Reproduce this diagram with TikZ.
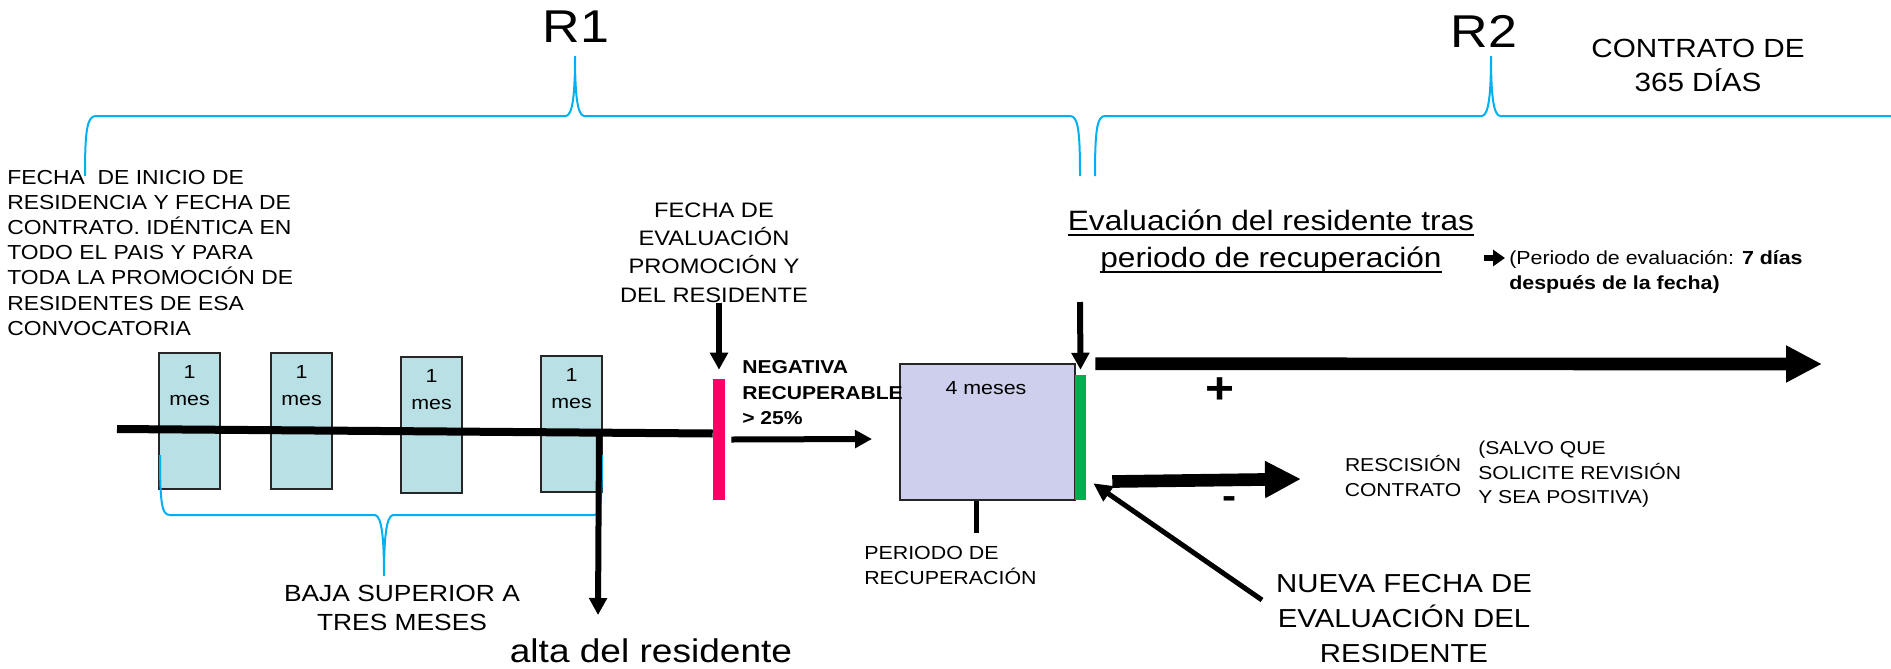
\documentclass[tikz,border=0pt]{standalone}
\usepackage{fontspec}
\setmainfont{Liberation Sans}[FakeStretch=1.13]
\usetikzlibrary{arrows.meta,calc,positioning}

\definecolor{bracecol}{RGB}{0,176,240}
\definecolor{monthcol}{RGB}{185,224,228}
\definecolor{recovcol}{RGB}{205,207,237}
\definecolor{negcol}{RGB}{255,0,102}
\definecolor{poscol}{RGB}{0,176,80}

\newcommand{\setfs}[2]{\fontsize{#1}{#2}\selectfont}
\newsavebox{\ulinebox}
\newcommand{\ulinetext}[1]{\sbox{\ulinebox}{#1}\rlap{\rule[-4pt]{\wd\ulinebox}{1.5pt}}\usebox{\ulinebox}}

\tikzset{
  txt/.style 2 args={inner sep=0pt, align=center, font=\setfs{#1}{#2}},
  txtb/.style 2 args={inner sep=0pt, align=left, font=\setfs{#1}{#2}\bfseries},
  bracket/.style={draw=bracecol, line width=1.5pt},
  monthbox/.style={draw=black!85, line width=1.5pt, fill=monthcol, minimum width=45.75pt, minimum height=102pt, inner sep=0pt},
  thinarrow/.style={line width=4.5pt, -{Triangle[length=12.75pt,width=13pt]}},
  fatarrow/.style={line width=9.5pt, -{Triangle[length=27pt,width=26pt]}},
}

\begin{document}
\begin{tikzpicture}[x=0.75pt,y=0.75pt,yscale=-1]
\useasboundingbox (0,0) rectangle (1891,668);

%Text: R1 / R2
\node[txt={34.5}{38}] (r1) at (576,27) {R1};
\node[txt={34.5}{38}] (r2) at (1484,31) {R2};
\node[txt={19.7}{25.5}, anchor=north] (contrato) at (1698,38.6) {CONTRATO DE\\365 DÍAS};

%Curve Lines: upper braces
\draw[bracket] (85,176) .. controls (85,130) and (87,116) .. (96,116) -- (566,116)
  .. controls (573,115) and (575,92) .. (575,56) .. controls (575,92) and (577,115) .. (584,116)
  -- (1070,116) .. controls (1078,116) and (1080,130) .. (1080,176);
\draw[bracket] (1095,176) .. controls (1095,130) and (1097,116) .. (1105,116) -- (1482,116)
  .. controls (1489,115) and (1491,92) .. (1491,56) .. controls (1491,92) and (1493,115) .. (1500,116)
  -- (1891,116);

%Text: left column
\node[txt={15.2}{18.9}, align=left, anchor=north west] (inicio) at (7,169.7)
  {FECHA\ \ DE INICIO DE\\RESIDENCIA Y FECHA DE\\CONTRATO. IDÉNTICA EN\\TODO EL PAIS Y PARA\\TODA LA PROMOCIÓN DE\\RESIDENTES DE ESA\\CONVOCATORIA};

%Shape: Rectangle (months)
\node[monthbox] (b1) at (189.5,421) {};
\node[monthbox] (b2) at (301.5,421) {};
\node[monthbox] (b3) at (431.5,425) {};
\node[monthbox] (b4) at (571.5,423.5) {};
\node[txt={14.2}{20.25}, anchor=north] (m1) at ($(b1.north)+(0,13.2)$) {1\\mes};
\node[txt={14.2}{20.25}, anchor=north] (m2) at ($(b2.north)+(0,13.2)$) {1\\mes};
\node[txt={14.2}{20.25}, anchor=north] (m3) at ($(b3.north)+(0,13.2)$) {1\\mes};
\node[txt={14.2}{20.25}, anchor=north] (m4) at ($(b4.north)+(0,13.2)$) {1\\mes};

%Shape: bars and recovery box
\node[fill=negcol, minimum width=9pt, minimum height=90.75pt, inner sep=0pt] (pink) at (719,439.5) {};
\node[draw=black!85, line width=1.5pt, fill=recovcol, minimum width=131.25pt, minimum height=102pt, inner sep=0pt] (rec) at (987.5,432) {};
\node[fill=poscol, minimum width=8.25pt, minimum height=93.75pt, inner sep=0pt] (green) at (1080.5,437.5) {};
\node[txt={14.2}{18}] (cuatro) at (986,388) {4 meses};

%Straight Lines: time line
\coordinate (tlstart) at (117,429);
\draw[line width=6pt] (tlstart) -- ($(pink.west)+(0,-6)$);

%Curve Lines: lower brace
\draw[bracket] (160,455) .. controls (160,505) and (162,515) .. (170,515) -- (375,515)
  .. controls (382,516) and (384,540) .. (384,576) .. controls (384,540) and (386,516) .. (393,515)
  -- (594,515) .. controls (600,515) and (602,505) .. (602,455);
\node[txt={17.5}{21.75}, anchor=north] (baja) at (402,584.6) {BAJA SUPERIOR A\\TRES MESES};

%Arrow: alta
\coordinate (altatip) at (598,615);
\draw[thinarrow] ($(b4.east)+(-4,11)$) -- (altatip);
\node[txt={24.6}{30}, anchor=base] (alta) at (651,662) {alta del residente};

%Text: first evaluation
\node[txt={15.7}{21.2}, anchor=north] (fechaev) at (714,202.5) {FECHA DE\\EVALUACIÓN\\PROMOCIÓN Y\\DEL RESIDENTE};
\coordinate (ev1top) at (719,303);
\draw[thinarrow] (ev1top) -- ($(pink.north)+(0,-9)$);
\node[txtb={14}{19.1}, anchor=north west] (negativa) at (742,360.3) {NEGATIVA\\RECUPERABLE\\> 25\%};
\draw[thinarrow] ($(pink.east)+(6,0)$) -- ($(rec.west)+(-27,7)$);

%Text: recovery period
\coordinate (stick) at (976,533);
\draw[line width=3.75pt] (rec.south -| stick) -- (stick);
\node[txt={14.2}{18.75}, align=left, anchor=north west] (periodo) at (864,546.2) {PERIODO DE\\RECUPERACIÓN};

%Text: second evaluation
\node[txt={21}{27.75}, anchor=north] (evaluacion) at (1271,210)
  {\ulinetext{Evaluación del residente tras}\\\ulinetext{periodo de recuperación}};
\coordinate (ev2top) at (1080,302);
\draw[thinarrow] (ev2top) -- ($(green.north)+(0,-5)$);
\node[txt={14.2}{18.75}, align=left, anchor=north west] (plazo) at (1509,250)
  {(Periodo de evaluación: \textbf{7 días}\\\textbf{después de la fecha)}};
\draw[line width=4pt, -{Triangle[length=9pt,width=12pt]}] ($(plazo.north west)+(-25,8)$) -- ($(plazo.north west)+(-4,8)$);

%Arrow: positive
\coordinate (plusend) at (1822,364);
\draw[fatarrow] ($(green.north east)+(9,-11)$) -- (plusend);
\node[txt={33}{36}, font=\setfs{33}{36}\bfseries] (plus) at (1220,391) {+};

%Arrow: negative
\coordinate (minusend) at (1301,479);
\draw[fatarrow] ($(green.east)+(26,44)$) -- (minusend);
\node[txt={28}{32}, font=\setfs{28}{32}\bfseries, anchor=base] (minus) at (1230,508) {-};
\node[txt={14}{18.75}, anchor=north] (rescision) at (1403,454.6) {RESCISIÓN\\CONTRATO};
\node[txt={14}{18.4}, align=left, anchor=north west] (salvo) at (1478,441)
  {(SALVO QUE\\SOLICITE REVISIÓN\\Y SEA POSITIVA)};

%Arrow: new date
\node[txt={19.5}{26.25}, anchor=north] (nueva) at (1404,573.7) {NUEVA FECHA DE\\EVALUACIÓN DEL\\RESIDENTE};
\coordinate (nuevatail) at (1262,600);
\draw[line width=3.75pt, -{Triangle[length=14pt,width=13pt]}] (nuevatail) -- ($(green.south east)+(7,-17)$);

\end{tikzpicture}
\end{document}
